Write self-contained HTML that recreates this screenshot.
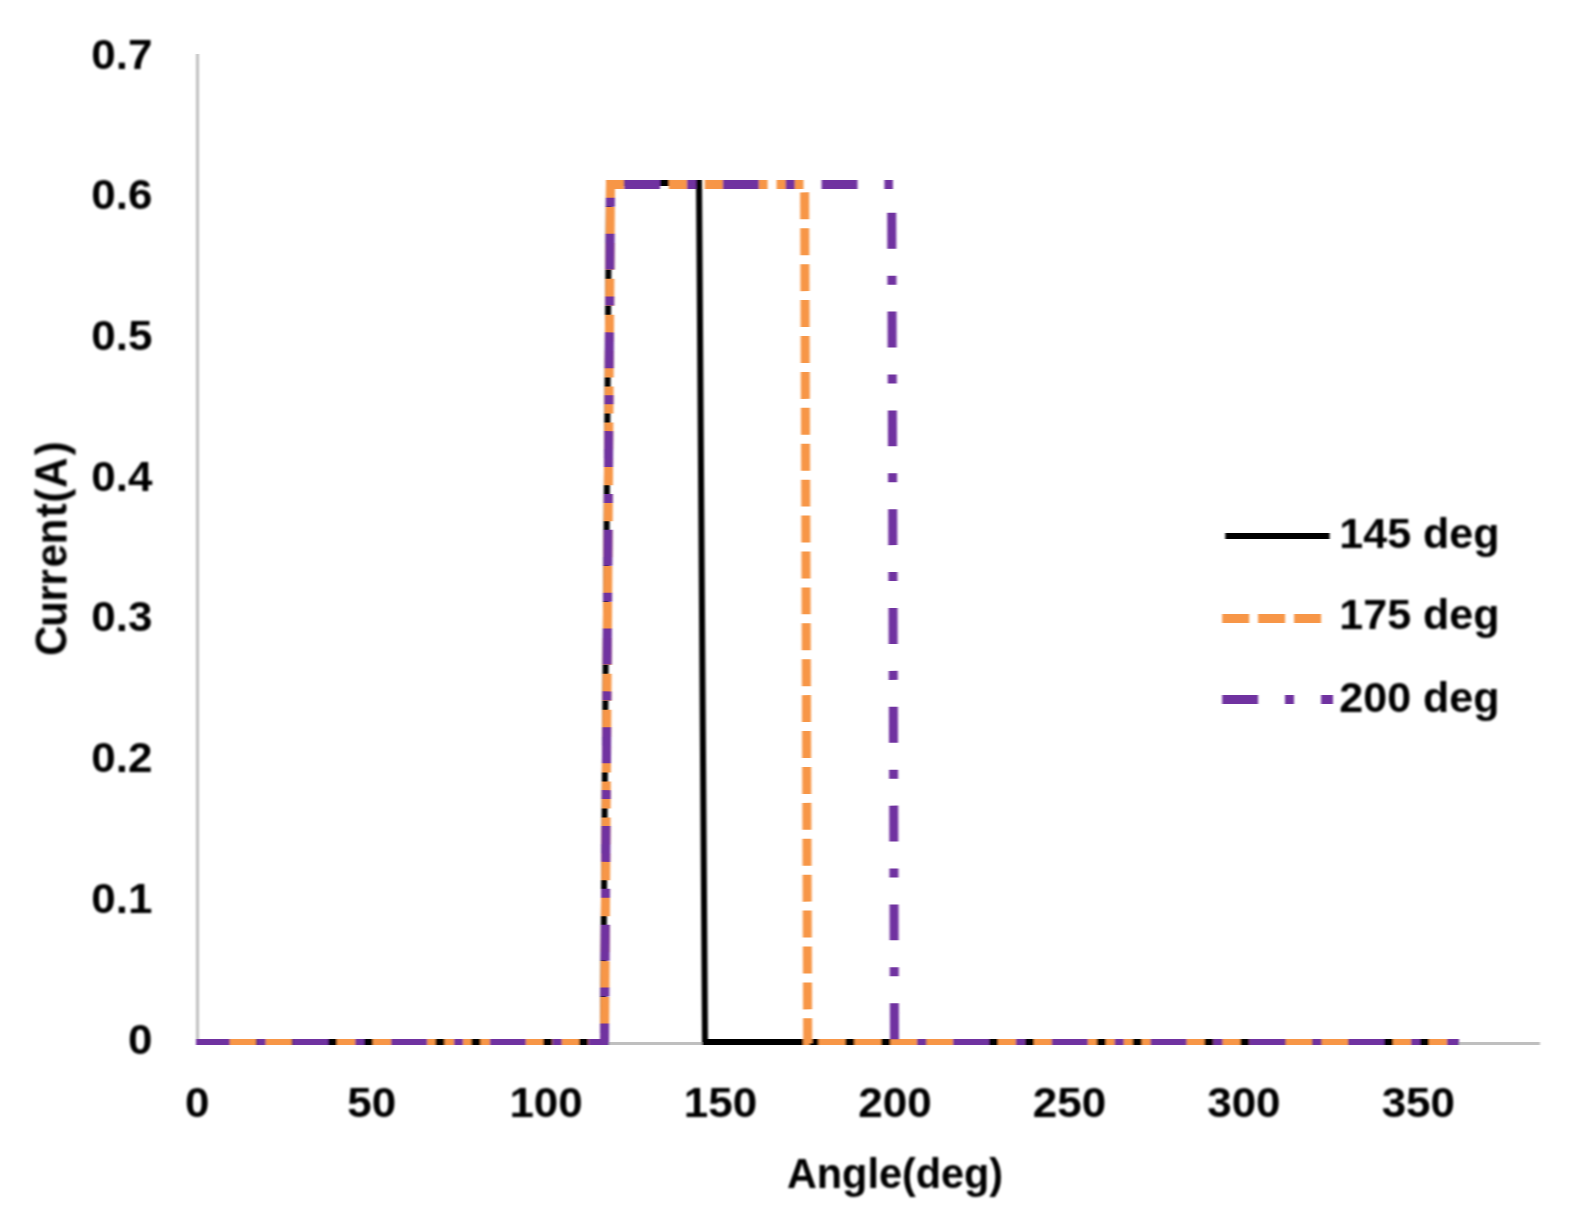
<!DOCTYPE html>
<html lang="en">
<head>
<meta charset="utf-8">
<title>Current vs Angle</title>
<style>
html,body{margin:0;padding:0;background:#fff;}
body{width:1574px;height:1224px;overflow:hidden;}
svg{display:block;}
text{font-family:"Liberation Sans",sans-serif;font-weight:bold;fill:#000;font-size:43px;}
</style>
</head>
<body>
<svg width="1574" height="1224" viewBox="0 0 1574 1224">
<rect x="0" y="0" width="1574" height="1224" fill="#ffffff"/>
<defs>
<clipPath id="plot"><rect x="196" y="40" width="1344" height="1005"/></clipPath>
<filter id="soft" x="0" y="0" width="1574" height="1224" filterUnits="userSpaceOnUse"><feGaussianBlur stdDeviation="0.8"/></filter>
<filter id="soft2" x="0" y="0" width="1574" height="1224" filterUnits="userSpaceOnUse"><feGaussianBlur stdDeviation="0.85 0.45"/></filter>
</defs>
<g filter="url(#soft2)">
<!-- axes -->
<rect x="196" y="54" width="3" height="991" fill="#bfbfbf"/>
<rect x="196" y="1042" width="1344" height="3" fill="#bfbfbf"/>
<!-- series -->
<g clip-path="url(#plot)" fill="none" stroke-linejoin="miter" stroke-linecap="butt">
<path d="M192.80 1042.00 L603.00 1042.00 L609.00 183.00 L699.00 183.00 L705.00 1042.00 L1458.90 1042.00" stroke="#000000" stroke-width="6"/>
<path d="M193.10 1043.50 L604.50 1043.50 L610.50 184.50 L804.60 184.50 L807.70 1043.50 L1458.90 1043.50" stroke="#f79646" stroke-width="9" stroke-dasharray="26.934 8.978"/>
<path d="M193.75 1043.5 L604.5 1043.5 L610.5 184.5 L892.9 184.5" stroke="#7030a0" stroke-width="9" stroke-dasharray="35.900 26.925 8.975 26.925"/>
<path d="M891.62 189 L894.5 1043.5 L1458.9 1043.5" stroke="#7030a0" stroke-width="9" stroke-dasharray="35.928 26.946 8.982 26.946" stroke-dashoffset="75.00"/>
</g>
<!-- legend keys -->
<rect x="1225.3" y="533" width="104.3" height="6" fill="#000"/>
<g fill="#f79646">
<rect x="1222.2" y="614" width="27" height="9"/>
<rect x="1258.1" y="614" width="27" height="9"/>
<rect x="1294.1" y="614" width="27" height="9"/>
</g>
<g fill="#7030a0">
<rect x="1222.2" y="695" width="35.9" height="9"/>
<rect x="1285" y="695" width="9" height="9"/>
<rect x="1321.1" y="695" width="11.9" height="9"/>
</g>
</g>
<g filter="url(#soft)">
<!-- y axis labels -->
<text transform="translate(152.50 68.50) scale(1.023 1)" text-anchor="end">0.7</text>
<text transform="translate(152.50 209.24) scale(1.023 1)" text-anchor="end">0.6</text>
<text transform="translate(152.50 349.98) scale(1.023 1)" text-anchor="end">0.5</text>
<text transform="translate(152.50 490.72) scale(1.023 1)" text-anchor="end">0.4</text>
<text transform="translate(152.50 631.46) scale(1.023 1)" text-anchor="end">0.3</text>
<text transform="translate(152.50 772.20) scale(1.023 1)" text-anchor="end">0.2</text>
<text transform="translate(152.50 912.94) scale(1.023 1)" text-anchor="end">0.1</text>
<text transform="translate(152.50 1053.70) scale(1.023 1)" text-anchor="end">0</text>
<!-- x axis labels -->
<text transform="translate(197.20 1117.10) scale(1.023 1)" text-anchor="middle">0</text>
<text transform="translate(371.65 1117.10) scale(1.023 1)" text-anchor="middle">50</text>
<text transform="translate(546.10 1117.10) scale(1.023 1)" text-anchor="middle">100</text>
<text transform="translate(720.55 1117.10) scale(1.023 1)" text-anchor="middle">150</text>
<text transform="translate(895.00 1117.10) scale(1.023 1)" text-anchor="middle">200</text>
<text transform="translate(1069.45 1117.10) scale(1.023 1)" text-anchor="middle">250</text>
<text transform="translate(1243.90 1117.10) scale(1.023 1)" text-anchor="middle">300</text>
<text transform="translate(1418.35 1117.10) scale(1.023 1)" text-anchor="middle">350</text>
<!-- axis titles -->
<text transform="translate(786.90 1188.40) scale(0.963 1)">Angle(deg)</text>
<text transform="translate(66.5 652.3) rotate(-90) scale(0.955 1)" style="font-size:44.0px" x="-3.84 26.75 52.99 69.95 88.81 112.96 141.31 156.62 172.25 206.27">Current(A)</text>
<text transform="translate(1339.30 547.70) scale(1.0 1)">145 deg</text>
<text transform="translate(1339.30 628.50) scale(1.0 1)">175 deg</text>
<text transform="translate(1339.30 712.30) scale(1.0 1)">200 deg</text>
</g>
</svg>
</body>
</html>
